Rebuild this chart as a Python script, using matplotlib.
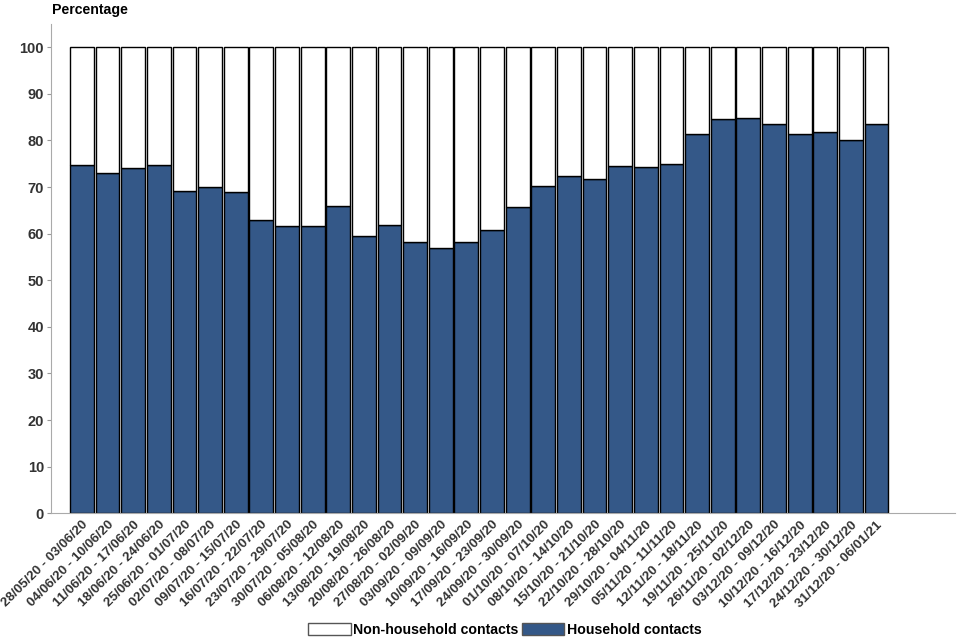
import matplotlib
matplotlib.use("Agg")
import matplotlib.pyplot as plt
from matplotlib.patches import Patch

plt.rcParams["font.family"] = ["Liberation Sans", "DejaVu Sans"]

categories = ["28/05/20 - 03/06/20", "04/06/20 - 10/06/20", "11/06/20 - 17/06/20", "18/06/20 - 24/06/20",
              "25/06/20 - 01/07/20", "02/07/20 - 08/07/20", "09/07/20 - 15/07/20", "16/07/20 - 22/07/20",
              "23/07/20 - 29/07/20", "30/07/20 - 05/08/20", "06/08/20 - 12/08/20", "13/08/20 - 19/08/20",
              "20/08/20 - 26/08/20", "27/08/20 - 02/09/20", "03/09/20 - 09/09/20", "10/09/20 - 16/09/20",
              "17/09/20 - 23/09/20", "24/09/20 - 30/09/20", "01/10/20 - 07/10/20", "08/10/20 - 14/10/20",
              "15/10/20 - 21/10/20", "22/10/20 - 28/10/20", "29/10/20 - 04/11/20", "05/11/20 - 11/11/20",
              "12/11/20 - 18/11/20", "19/11/20 - 25/11/20", "26/11/20 - 02/12/20", "03/12/20 - 09/12/20",
              "10/12/20 - 16/12/20", "17/12/20 - 23/12/20", "24/12/20 - 30/12/20", "31/12/20 - 06/01/21"]
household = [74.7, 73.1, 74.0, 74.7, 69.2, 70.0, 69.0, 63.0, 61.7, 61.7, 66.0, 59.4,
             61.9, 58.3, 57.0, 58.3, 60.7, 65.8, 70.3, 72.3, 71.8, 74.6, 74.4, 75.0,
             81.5, 84.6, 84.9, 83.6, 81.5, 81.9, 80.2, 83.6]
non_household = [100 - h for h in household]
yticks = list(range(0, 101, 10))

fig = plt.figure(figsize=(9.6, 6.4), dpi=100)
ax = fig.add_axes([0.053, 0.198, 0.942, 0.7645])
x = list(range(len(categories)))
blue = "#345888"
ax.bar(x, household, width=0.93, color=blue, edgecolor="black", linewidth=1.0)
ax.bar(x, non_household, bottom=household, width=0.93, color="white", edgecolor="black", linewidth=1.0)

ax.set_xlim(-1.21, 34.07)
ax.set_ylim(0, 105)
ax.set_yticks(yticks)
ax.set_xticks(x)
ax.set_xticklabels(categories, rotation=45, ha="right", rotation_mode="anchor",
                   fontsize=9.6, fontweight="bold", color="#333333")
ax.tick_params(axis="x", length=0, pad=4)
ax.tick_params(axis="y", length=3, color="#999999", labelsize=10.5, labelcolor="#333333", pad=2)
for lab in ax.get_yticklabels():
    lab.set_fontweight("bold")
for s in ["top", "right"]:
    ax.spines[s].set_visible(False)
ax.spines["left"].set_color("#aaaaaa")
ax.spines["bottom"].set_color("#aaaaaa")

fig.text(0.054, 0.996, "Percentage", fontsize=10.2, fontweight="bold", ha="left", va="top")

handles = [Patch(facecolor="white", edgecolor="#555555", label="Non-household contacts"),
           Patch(facecolor=blue, edgecolor="#555555", label="Household contacts")]
fig.legend(handles=handles, loc="lower center", bbox_to_anchor=(0.526, -0.015), ncol=2, frameon=False,
           prop={"weight": "bold", "size": 10.2}, handlelength=3.0, handleheight=1.0,
           handletextpad=0.2, columnspacing=0.2)
fig.savefig("out.png", dpi=100)
